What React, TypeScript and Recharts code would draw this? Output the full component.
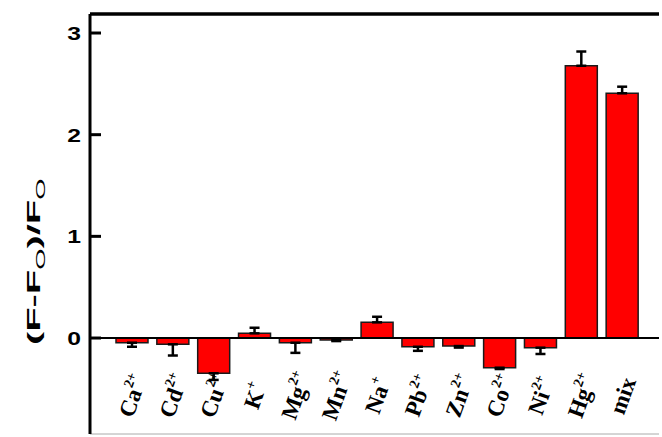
import { BarChart, Bar, XAxis, YAxis, ErrorBar, ReferenceLine } from "recharts";

// ions on the x axis, with their charge written as superscript
const ions = ["Ca", "Cd", "Cu", "K", "Mg", "Mn", "Na", "Pb", "Zn", "Co", "Ni", "Hg", "mix"];
const charges = ["2+", "2+", "2+", "+", "2+", "2+", "+", "2+", "2+", "2+", "2+", "2+", ""];

// (F-Fo)/Fo response and its one-sided error
const response = [-0.046, -0.062, -0.347, 0.046, -0.046, -0.02, 0.154, -0.086, -0.079, -0.292, -0.095, 2.678, 2.407];
const errors = [0.04, 0.11, 0.065, 0.055, 0.1, 0.01, 0.055, 0.04, 0.015, 0.013, 0.062, 0.14, 0.065];

const yTicks = [0, 1, 2, 3];

const data = ions.map((ion, i) => ({
  ion,
  value: response[i],
  // error only drawn away from zero: [lower, upper]
  err: response[i] < 0 ? [errors[i], 0] : [0, errors[i]],
}));

const IonTick = (props: any) => {
  const { x, y, payload } = props;
  const i = ions.indexOf(payload.value);
  const charge = charges[i];
  return (
    <g transform={`translate(${x + 1},${y - 38}) rotate(-70)`}>
      <text
        x={0}
        y={7}
        textAnchor="middle"
        fontFamily="'Liberation Serif', 'Times New Roman', serif"
        fontWeight="bold"
        fontSize={23}
        fill="#000"
      >
        <tspan>{payload.value}</tspan>
        {charge && (
          <tspan dy={-11} fontSize={14}>
            {charge}
          </tspan>
        )}
      </text>
    </g>
  );
};

const ValueTick = (props: any) => {
  const { x, y, payload } = props;
  return (
    <g>
      <line x1={x + 8} x2={x + 19} y1={y} y2={y} stroke="#000" strokeWidth={3} />
      <text
        transform={`translate(${x - 1},${y + 7}) scale(1.3,1)`}
        textAnchor="end"
        fontFamily="'Liberation Sans', Arial, sans-serif"
        fontWeight="bold"
        fontSize={19}
        fill="#000"
      >
        {payload.value}
      </text>
    </g>
  );
};

const YTitle = (props: any) => {
  const { viewBox } = props;
  const cx = viewBox.x + 40;
  const cy = viewBox.y + viewBox.height * 0.59;
  const sub = { fontSize: 13, fontWeight: "normal" as const };
  return (
    <g transform={`translate(${cx},${cy}) rotate(-90) scale(2.1,1)`}>
      <text
        x={0}
        y={0}
        textAnchor="middle"
        fontFamily="'Liberation Sans', Arial, sans-serif"
        fontWeight="bold"
        fontSize={19}
        fill="#000"
      >
        <tspan>(F-F</tspan>
        <tspan dy={5} {...sub}>O</tspan>
        <tspan dy={-5}>)/F</tspan>
        <tspan dy={5} {...sub}>O</tspan>
      </text>
    </g>
  );
};

export default function App() {
  return (
    <div style={{ position: "absolute", left: 0, top: 0, background: "#fff" }}>
      <BarChart
        width={662}
        height={437}
        data={data}
        margin={{ top: 13, right: 3, left: 0, bottom: 2 }}
        barSize={32}
      >
        <XAxis
          dataKey="ion"
          height={1}
          padding={{ left: 22, right: 16 }}
          axisLine={{ stroke: "#aaa", strokeWidth: 1 }}
          tickLine={false}
          tickSize={0}
          tickMargin={0}
          tick={<IonTick />}
          interval={0}
        />
        <XAxis
          xAxisId="top"
          orientation="top"
          dataKey="ion"
          height={1}
          tick={false}
          tickLine={false}
          axisLine={{ stroke: "#000", strokeWidth: 3.5 }}
        />
        <YAxis
          type="number"
          width={90}
          domain={[-0.944, 3.187]}
          allowDataOverflow
          ticks={yTicks}
          axisLine={{ stroke: "#000", strokeWidth: 3 }}
          tickLine={false}
          tickSize={0}
          tickMargin={8}
          tick={<ValueTick />}
          label={{ content: <YTitle /> }}
        />
        <YAxis
          yAxisId="right"
          orientation="right"
          width={0}
          domain={[-0.944, 3.187]}
          tick={false}
          tickLine={false}
          axisLine={{ stroke: "#aaa", strokeWidth: 1 }}
        />
        <ReferenceLine y={0} stroke="#000" strokeWidth={2} />
        <Bar dataKey="value" fill="#ff0000" stroke="#1a1a1a" strokeWidth={1.5} isAnimationActive={false}>
          <ErrorBar dataKey="err" width={5} stroke="#000" strokeWidth={2.5} direction="y" />
        </Bar>
      </BarChart>
    </div>
  );
}
